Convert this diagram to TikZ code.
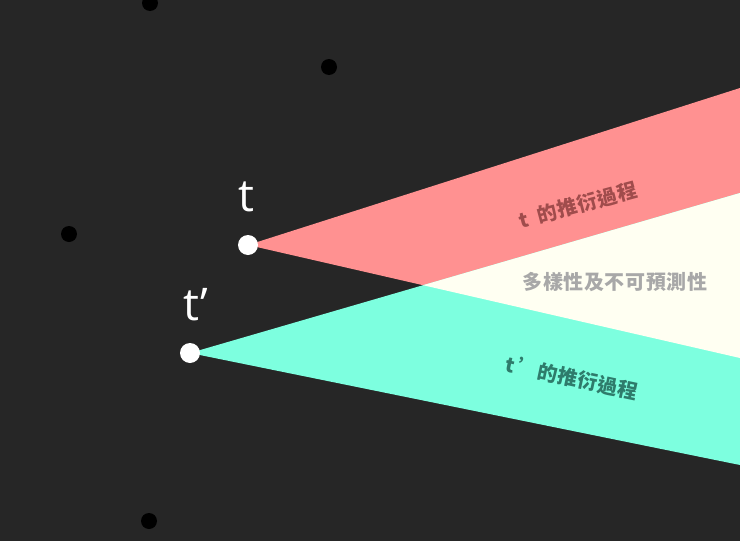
\documentclass[tikz,border=0pt]{standalone}
\usepackage{fontspec}
\setsansfont{Open Sans}
\newfontfamily\cjk[LetterSpace=3]{Noto Sans CJK TC}
\usetikzlibrary{positioning}
\definecolor{bgdark}{HTML}{262626}
\definecolor{fanpink}{HTML}{FF9191}
\definecolor{fancyan}{HTML}{7DFFDF}
\definecolor{fancream}{HTML}{FFFFF2}
\definecolor{txtpink}{HTML}{A04C4C}
\definecolor{txtcyan}{HTML}{2E7B6B}
\definecolor{txtgray}{HTML}{A8A8A8}
\begin{document}
\begin{tikzpicture}[x=1pt, y=-1pt,
  blackdot/.style={circle, fill=black, inner sep=0pt, minimum size=16pt},
  whitedot/.style={circle, fill=white, inner sep=0pt, minimum size=20pt},
  timelabel/.style={text=white, font=\sffamily\fontsize{45}{45}\selectfont},
  fanlabel/.style={font=\cjk\bfseries\fontsize{20}{20}\selectfont}]
\fill[bgdark] (0,0) rectangle (740,541);
\useasboundingbox (0,0) rectangle (740,541);
% fans
\coordinate (t) at (248,245);
\coordinate (tp) at (190,353);
\coordinate (pinktop) at (740,88);
\coordinate (pinkbot) at (740,358);
\coordinate (cyantop) at (740,193);
\coordinate (cyanbot) at (740,465);
\fill[fanpink] (t) -- (pinktop) -- (pinkbot) -- cycle;
\fill[fancyan] (tp) -- (cyantop) -- (cyanbot) -- cycle;
\begin{scope}
  \clip (t) -- (pinktop) -- (pinkbot) -- cycle;
  \fill[fancream] (tp) -- (cyantop) -- (cyanbot) -- cycle;
\end{scope}
% dots
\node[blackdot] (d1) at (150,3) {};
\node[blackdot] (d2) at (329,67) {};
\node[blackdot] (d3) at (69,234) {};
\node[blackdot] (d4) at (149,521) {};
\node[whitedot] (tdot) at (t) {};
\node[whitedot] (tpdot) at (tp) {};
\node[timelabel] (tlab) at (246,197) {t};
\node[timelabel] (tplab) at (196,305) {t’};
% labels
\node[fanlabel, text=txtpink, rotate=15] (pinklab) at (578,205) {t\hspace{10pt}的推衍過程};
\node[fanlabel, text=txtgray] (midlab) at (615,282) {多樣性及不可預測性};
\node[fanlabel, text=txtcyan, rotate=-12] (cyanlab) at (572,378) {t\,’的推衍過程};
\end{tikzpicture}
\end{document}
